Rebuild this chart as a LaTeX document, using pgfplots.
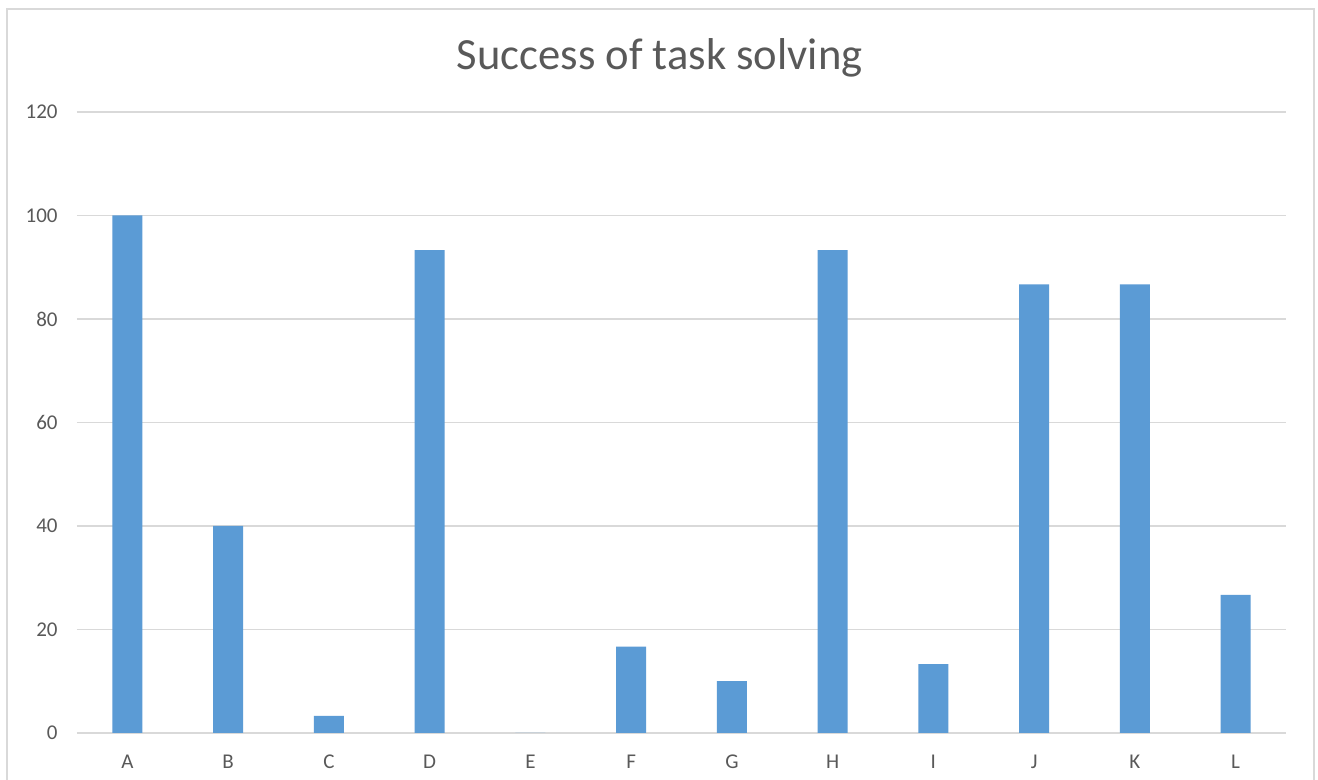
\documentclass[border=0pt]{standalone}
\usepackage{fontspec}
\setmainfont{Carlito}
\usepackage{pgfplots}
\pgfplotsset{compat=1.18}
\definecolor{barblue}{HTML}{5B9BD5}
\definecolor{gridgray}{HTML}{D9D9D9}
\definecolor{txtgray}{HTML}{595959}
\pgfplotstableread{
x val
0 100
1 40
2 3.33
3 93.33
4 0
5 16.67
6 10
7 93.33
8 13.33
9 86.67
10 86.67
11 26.67
}\datatable
\begin{document}
\begin{tikzpicture}
\path[use as bounding box] (0,0) rectangle (659pt,390pt);
\fill[white] (0,0) rectangle (659pt,390pt);
\draw[gridgray, line width=1pt] (3.5pt,-5pt) -- (3.5pt,385.5pt) -- (657pt,385.5pt) -- (657pt,-5pt);
\begin{axis}[
  at={(38.5pt,23.5pt)}, anchor=south west,
  scale only axis, width=604.5pt, height=310.5pt,
  xmin=-0.5, xmax=11.5, ymin=0, ymax=120,
  ytick={0,20,...,120},
  xtick={0,...,11},
  xticklabels={A,B,C,D,E,F,G,H,I,J,K,L},
  ymajorgrids, grid style={gridgray, line width=0.75pt},
  axis line style={draw=none},
  major tick length=0pt,
  /pgf/number format/assume math mode=true,
  tick label style={font=\fontsize{10.5pt}{12pt}\selectfont, text=txtgray},
  yticklabel style={anchor=east, inner sep=0pt, xshift=-9.5pt},
  xticklabel style={anchor=center, inner sep=0pt, yshift=-14.5pt},
  title={Success of task solving},
  title style={at={(rel axis cs:0.482,1)}, anchor=center, yshift=21pt, font=\fontsize{22.3pt}{26pt}\selectfont, text=txtgray},
  clip=false,
]
\addplot[ybar, bar width=15pt, fill=barblue, draw=none] table[x=x, y=val] {\datatable};
\end{axis}
\end{tikzpicture}
\end{document}
